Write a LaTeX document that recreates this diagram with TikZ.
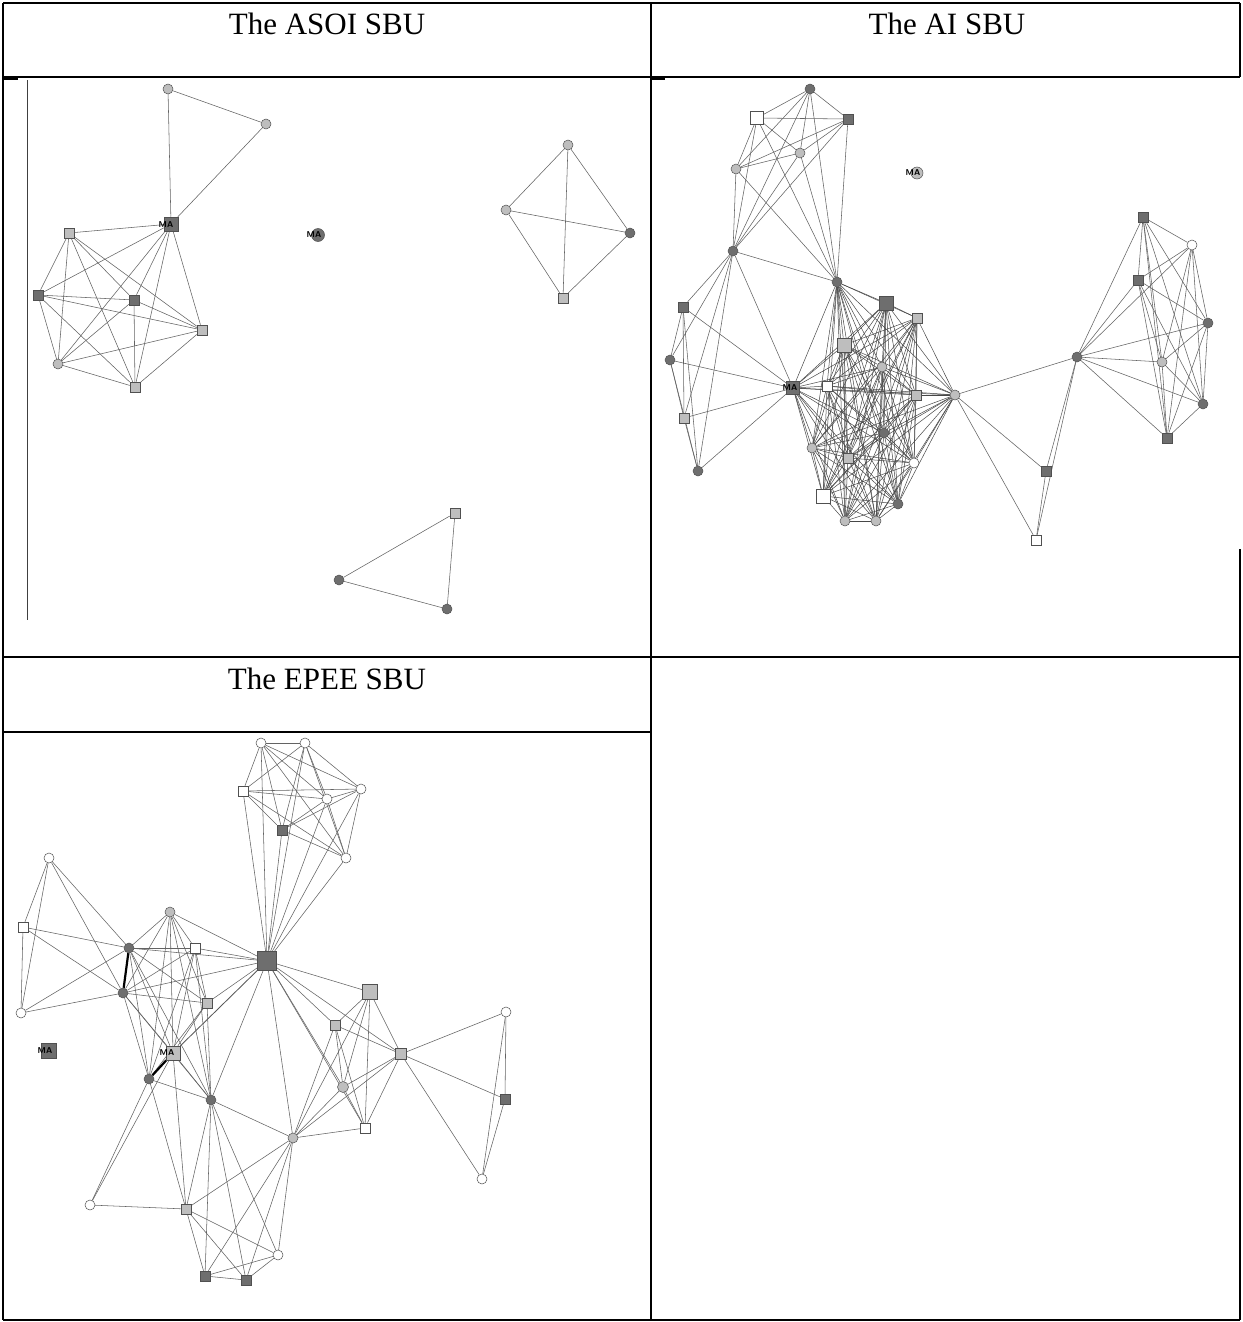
\documentclass[tikz,border=0pt]{standalone}
\usepackage{fontspec}
\setmainfont{Liberation Serif}
\usetikzlibrary{backgrounds}
\definecolor{dkc}{HTML}{6E6E6E}
\definecolor{ltc}{HTML}{BEBEBE}
\definecolor{edc}{HTML}{636363}
\definecolor{bdc}{HTML}{505050}
\tikzset{
 sq/.style={rectangle, draw=bdc, line width=0.5pt, minimum size=10pt, inner sep=0pt},
 ci/.style={circle, draw=bdc, line width=0.5pt, minimum size=10pt, inner sep=0pt},
 dkf/.style={fill=dkc},
 ltf/.style={fill=ltc},
 wtf/.style={fill=white},
 edge/.style={draw=edc, line width=0.55pt},
 thickedge/.style={draw=black, line width=2.2pt},
 ma/.style={font=\sffamily\bfseries\fontsize{8.5}{8.5}\selectfont, inner sep=0pt},
 hdr/.style={font=\fontsize{31}{36}\selectfont, anchor=base, inner sep=0pt},
 tbl/.style={line width=1.5pt, draw=black},
}
\newcommand\completegraph[2][edge]{%
  \foreach \ua [count=\ui] in {#2}{%
    \foreach \ub [count=\uj] in {#2}{%
      \ifnum\uj>\ui\relax \draw[#1] (\ua) -- (\ub);\fi
    }}}
\begin{document}
\begin{tikzpicture}[x=1pt,y=-1pt]
\useasboundingbox (0,0) rectangle (1242,1322);

% headers
\node[hdr] (h1) at (327,35) {The ASOI SBU};
\node[hdr] (h2) at (947,35) {The AI SBU};
\node[hdr] (h3) at (327,689) {The EPEE SBU};

% ---------------- ASOI ----------------
\node[ci,ltf] (s1) at (168,89) {};
\node[ci,ltf] (s2) at (266,124) {};
\node[sq,dkf,minimum size=14pt] (sMA) at (171,224) {};
\node[sq,ltf] (s3) at (69,233) {};
\node[sq,dkf] (s4) at (38,295) {};
\node[sq,dkf] (s5) at (134,300) {};
\node[sq,ltf] (s6) at (202,330) {};
\node[ci,ltf] (s7) at (58,364) {};
\node[sq,ltf] (s8) at (135,387) {};
\node[ci,dkf,minimum size=13pt] (sMB) at (318,235) {};
\node[ci,ltf] (d1) at (568,145) {};
\node[ci,ltf] (d2) at (506,210) {};
\node[ci,dkf] (d3) at (630,233) {};
\node[sq,ltf] (d4) at (563,298) {};
\node[sq,ltf] (g1) at (455,513) {};
\node[ci,dkf] (g2) at (339,580) {};
\node[ci,dkf] (g3) at (447,609) {};
\node[ma] (sMAl) at ([xshift=-5pt,yshift=-1pt]sMA.center) {MA};
\node[ma] (sMBl) at ([xshift=-4pt]sMB.center) {MA};

% ---------------- AI ----------------
\node[ci,dkf] (t1) at (810,89) {};
\node[sq,wtf,minimum size=13pt] (t2) at (757,118) {};
\node[sq,dkf] (t3) at (848,119) {};
\node[ci,ltf] (t4) at (800,153) {};
\node[ci,ltf] (t5) at (736,169) {};
\node[ci,ltf,minimum size=12pt] (aMA) at (917,173) {};
\node[ci,dkf] (t6) at (733,251) {};
\node[sq,dkf] (l1) at (683,307) {};
\node[ci,dkf] (l2) at (670,360) {};
\node[sq,ltf] (l3) at (684,418) {};
\node[ci,dkf] (l4) at (698,471) {};
\node[ci,dkf] (c1) at (837,282) {};
\node[sq,dkf,minimum size=14pt] (c2) at (886,303) {};
\node[sq,ltf] (c3) at (917,318) {};
\node[sq,ltf,minimum size=14pt] (c4) at (844,345) {};
\node[ci,ltf] (c5) at (882,367) {};
\node[sq,dkf,minimum size=13pt] (c6) at (793,388) {};
\node[sq,wtf] (c7) at (827,386) {};
\node[sq,ltf] (c8) at (916,395) {};
\node[ci,ltf] (c9) at (955,395) {};
\node[ci,dkf] (c10) at (884,433) {};
\node[ci,ltf] (c11) at (812,448) {};
\node[sq,ltf] (c12) at (848,458) {};
\node[ci,wtf] (c13) at (914,463) {};
\node[sq,wtf,minimum size=14pt] (c14) at (823,496) {};
\node[ci,dkf] (c15) at (898,504) {};
\node[ci,ltf] (c16) at (845,521) {};
\node[ci,ltf] (c17) at (876,521) {};
\node[ci,dkf] (R) at (1077,357) {};
\node[sq,dkf] (r1) at (1143,217) {};
\node[ci,wtf] (r2) at (1192,245) {};
\node[sq,dkf] (r3) at (1138,280) {};
\node[ci,dkf] (r4) at (1208,323) {};
\node[ci,ltf] (r5) at (1162,362) {};
\node[ci,dkf] (r6) at (1203,404) {};
\node[sq,dkf] (r7) at (1167,438) {};
\node[sq,dkf] (q1) at (1046,471) {};
\node[sq,wtf] (q2) at (1036,540) {};
\node[ma] (aMAl) at ([xshift=-4pt]aMA.center) {MA};
\node[ma] (c6l) at ([xshift=-3pt]c6.center) {MA};

% ---------------- EPEE ----------------
\node[ci,wtf] (E1) at (261,743) {};
\node[ci,wtf] (E2) at (305,743) {};
\node[sq,wtf] (E3) at (243,791) {};
\node[ci,wtf] (E4) at (361,789) {};
\node[ci,wtf] (E5) at (327,799) {};
\node[sq,dkf] (E6) at (282,830) {};
\node[ci,wtf] (E7) at (346,858) {};
\node[ci,wtf] (E8) at (49,858) {};
\node[ci,ltf] (E9) at (170,912) {};
\node[sq,wtf] (E10) at (23,927) {};
\node[ci,dkf] (E11) at (129,948) {};
\node[sq,wtf] (E12) at (195,948) {};
\node[sq,dkf,minimum size=19pt] (E13) at (267,961) {};
\node[ci,dkf] (E14) at (123,993) {};
\node[sq,ltf] (E15) at (207,1003) {};
\node[ci,wtf] (E16) at (21,1013) {};
\node[sq,dkf,minimum size=15pt] (E17) at (49,1051) {};
\node[sq,ltf,minimum size=14pt] (E18) at (173,1053) {};
\node[ci,dkf] (E19) at (149,1079) {};
\node[ci,dkf] (E20) at (211,1100) {};
\node[ci,ltf] (E21) at (293,1138) {};
\node[ci,wtf] (E22) at (90,1205) {};
\node[sq,ltf] (E23) at (186,1209) {};
\node[ci,wtf] (E24) at (278,1255) {};
\node[sq,dkf] (E25) at (205,1276) {};
\node[sq,dkf] (E26) at (246,1280) {};
\node[sq,ltf,minimum size=15pt] (E27) at (370,992) {};
\node[sq,ltf] (E28) at (335,1025) {};
\node[sq,ltf,minimum size=11pt] (E29) at (401,1054) {};
\node[ci,wtf] (E30) at (506,1012) {};
\node[ci,ltf,minimum size=11pt] (E31) at (343,1087) {};
\node[sq,dkf] (E32) at (505,1099) {};
\node[sq,wtf] (E33) at (365,1128) {};
\node[ci,wtf] (E34) at (482,1179) {};
\node[ma] (E17l) at ([xshift=-4pt]E17.center) {MA};
\node[ma] (E18l) at ([xshift=-6pt]E18.center) {MA};

\begin{scope}[on background layer]
\fill[white] (0,0) rectangle (1242,1322);
% ASOI edges
\completegraph{sMA,s3,s4,s5,s6,s7,s8}
\completegraph{sMA,s1,s2}
\completegraph{d1,d2,d3,d4}
\completegraph{g1,g2,g3}
% AI edges
\completegraph{t1,t2,t3,t4,t5,t6,c1}
\completegraph{t6,l1,l2,l3,l4,c6}
\completegraph[{draw=black!72, line width=0.5pt}]{c1,c2,c3,c4,c5,c6,c7,c8,c9,c10,c11,c12,c13,c14,c15,c16,c17}
\completegraph{r1,r2,r3,r4,r5,r6,r7}
\foreach \v in {r1,r2,r3,r4,r5,r6,r7,c9,q1,q2} \draw[edge] (R) -- (\v);
\completegraph{c9,q1,q2}
% EPEE edges
\completegraph{E1,E2,E3,E4,E5,E6,E7}
\foreach \v in {E1,E2,E3,E4,E5,E6,E7} \draw[edge] (E13) -- (\v);
\foreach \a/\b in {E8/E10,E8/E16,E8/E11,E8/E14,E10/E16,E10/E11,E10/E14,E16/E11,E16/E14,
  E9/E11,E9/E14,E9/E12,E9/E15,E9/E18,E9/E19,E9/E20,E9/E13,
  E11/E12,E11/E13,E11/E15,E11/E18,E11/E19,E11/E20,
  E12/E13,E12/E14,E12/E15,E12/E18,E12/E19,E12/E20,
  E14/E13,E14/E15,E14/E18,E14/E19,E14/E20,
  E15/E18,E15/E19,E15/E20,E15/E13,
  E18/E20,E18/E23,E18/E22,
  E19/E20,E19/E22,E19/E23,
  E20/E21,E20/E23,E20/E25,E20/E26,E20/E24,
  E13/E21,E13/E20,E13/E27,E13/E28,E13/E29,E13/E31,E13/E33,
  E21/E23,E21/E25,E21/E26,E21/E24,E21/E27,E21/E28,E21/E29,E21/E31,E21/E33,
  E22/E23,E23/E25,E23/E26,E23/E24,E24/E25,E24/E26,E25/E26,
  E27/E28,E27/E29,E27/E31,E27/E33,E28/E29,E28/E31,E28/E33,
  E29/E30,E29/E32,E29/E34,E29/E31,E29/E33,E30/E32,E30/E34,E32/E34,E31/E33}
  \draw[edge] (\a) -- (\b);
\draw[thickedge] (E11) -- (E14);
\draw[thickedge] (E18) -- (E19);
\draw[draw=black!65, line width=0.85pt] (E18) -- (E13);
\end{scope}

% table lines
\coordinate (p1) at (3,3);
\coordinate (p2) at (1240,3);
\coordinate (p3) at (3,1320);
\coordinate (p4) at (1240,1320);
\draw[tbl] (p1) -- (p2);
\draw[tbl] (p1) -- (p3);
\draw[tbl] (p3) -- (p4);
\coordinate (q77a) at (1240,77);
\coordinate (q549) at (1240,549);
\draw[tbl] (p2) -- (q77a);
\draw[tbl] (q549) -- (p4);
\coordinate (m1) at (3,77);
\draw[line width=1.2pt] (m1) -- (q77a);
\coordinate (v1) at (651,3);
\coordinate (v2) at (651,1320);
\draw[tbl] (v1) -- (v2);
\coordinate (r657a) at (3,657);
\coordinate (r657b) at (1240,657);
\draw[tbl] (r657a) -- (r657b);
\coordinate (r732a) at (3,732);
\coordinate (r732b) at (651,732);
\draw[tbl] (r732a) -- (r732b);
\coordinate (st1) at (18,79);
\coordinate (st0) at (3,79);
\draw[line width=1.5pt] (st0) -- (st1);
\coordinate (st2) at (651,79);
\coordinate (st3) at (665,79);
\draw[line width=1.5pt] (st2) -- (st3);
\coordinate (il1) at (27,80);
\coordinate (il2) at (27,620);
\draw[line width=0.9pt, draw=black!75] (il1) -- (il2);
\end{tikzpicture}
\end{document}
